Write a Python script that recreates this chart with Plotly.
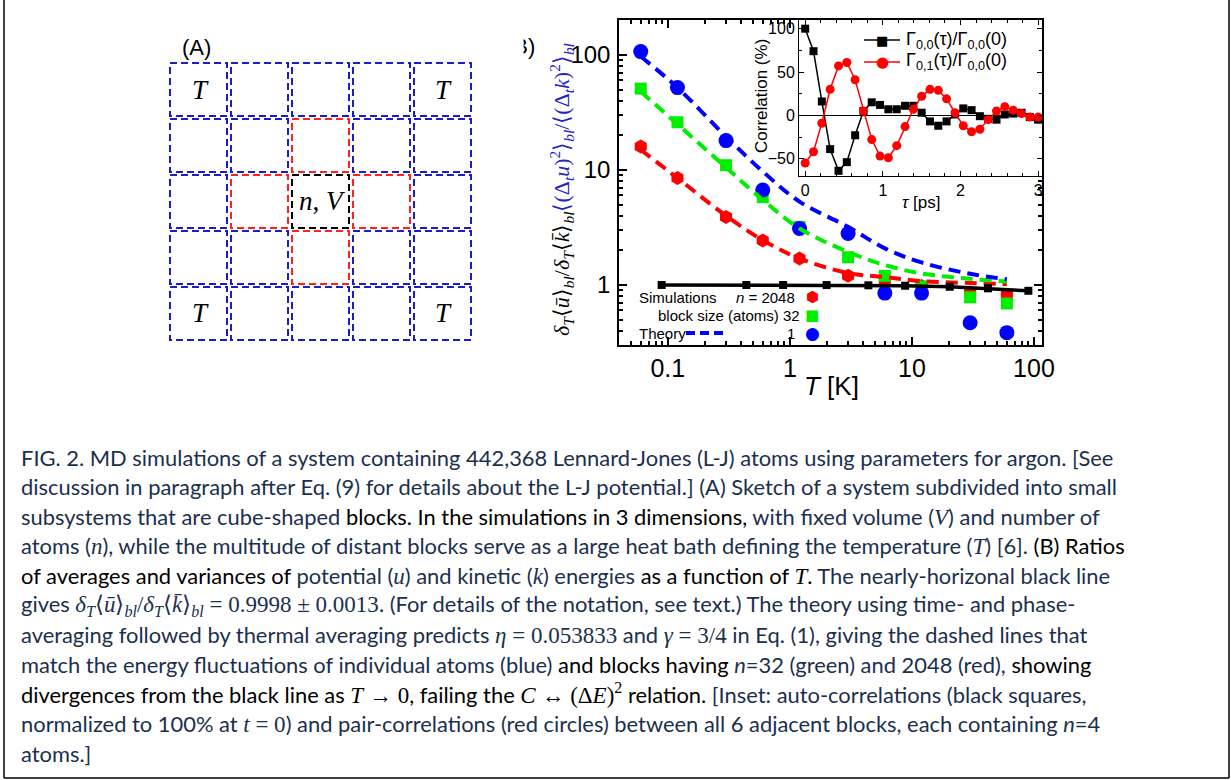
import plotly.graph_objects as go

W, H = 1231, 780

# ---------------- data ----------------
T_sim = [0.06, 0.12, 0.3, 0.6, 1.2, 3, 6, 12, 30, 60]
ratio_n2048 = [16, 8.5, 3.9, 2.43, 1.7, 1.2, 1.1, 0.98, 0.86, 0.82]
ratio_n32 = [51, 26, 11, 5.8, 3.2, 1.74, 1.2, 0.97, 0.78, 0.69]
ratio_n1 = [107, 52, 18, 6.7, 3.1, 2.8, 0.85, 0.85, 0.47, 0.385]

T_theory = [0.06, 0.12, 0.3, 0.6, 1.2, 3, 6, 12, 30, 60]
theory_n2048 = [15, 8.5, 4.0, 2.45, 1.7, 1.27, 1.17, 1.08, 1.04, 1.02]
theory_n32 = [48, 25, 10.5, 5.5, 3.1, 1.94, 1.49, 1.26, 1.13, 1.07]
theory_n1 = [97, 52, 19.5, 9.7, 5.3, 3.2, 2.08, 1.57, 1.25, 1.12]

T_black = [0.089, 0.44, 0.88, 2.0, 4.4, 8.8, 20.4, 42, 90]
ratio_black = [1.0, 1.0, 1.0, 0.998, 0.993, 0.985, 0.965, 0.935, 0.89]

tau_ps = [0.0, 0.107, 0.214, 0.321, 0.429, 0.536, 0.643, 0.75, 0.857, 0.964,
          1.071, 1.179, 1.286, 1.393, 1.5, 1.607, 1.714, 1.821, 1.929, 2.036,
          2.143, 2.25, 2.357, 2.464, 2.571, 2.679, 2.786, 2.893, 3.0]
gamma00 = [100, 74, 16, -39, -64, -54, -23, 5, 15, 12,
           7, 7, 11, 11, 3, -7, -12, -7, 1, 8,
           6, -1, -4, -5, 1, 2, 3, -2, -5]
gamma01 = [-55, -42, -9, 30, 57, 61, 41, 5, -28, -47,
           -49, -35, -13, 7, 22, 30, 29, 19, 3, -12,
           -19, -16, -5, 5, 10, 6, 2, -2, -2]

x_ticks_main = [0.1, 1, 10, 100]
y_ticks_main = [1, 10, 100]

inset_names = ["Γ<sub>0,0</sub>(τ)/Γ<sub>0,0</sub>(0)", "Γ<sub>0,1</sub>(τ)/Γ<sub>0,0</sub>(0)"]

grid_colors = [
    ["B", "B", "B", "B", "B"],
    ["B", "B", "R", "B", "B"],
    ["B", "R", "K", "R", "B"],
    ["B", "B", "R", "B", "B"],
    ["B", "B", "B", "B", "B"],
]

# ---------------- helpers ----------------
def px(x):
    return x / W

def py(y):
    return 1 - y / H

RED, GREEN, BLUE = "#ff0000", "#00ee00", "#0000ff"
NAVY = "#1b2f4e"
SANS = "Liberation Sans"
SERIF = "Liberation Serif"

fig = go.Figure()

# main plot markers
fig.add_trace(go.Scatter(x=T_sim, y=ratio_n2048, mode="markers",
                         marker=dict(symbol="hexagon", size=14, color=RED),
                         showlegend=False))
fig.add_trace(go.Scatter(x=T_sim, y=ratio_n32, mode="markers",
                         marker=dict(symbol="square", size=12, color=GREEN),
                         showlegend=False))
fig.add_trace(go.Scatter(x=T_sim, y=ratio_n1, mode="markers",
                         marker=dict(symbol="circle", size=15, color=BLUE),
                         showlegend=False))
# theory dashed
for yy, c in [(theory_n2048, RED), (theory_n32, GREEN), (theory_n1, BLUE)]:
    fig.add_trace(go.Scatter(x=T_theory, y=yy, mode="lines",
                             line=dict(color=c, width=4, dash="12px,7px", shape="spline"),
                             showlegend=False))
# black line
fig.add_trace(go.Scatter(x=T_black, y=ratio_black, mode="lines+markers",
                         line=dict(color="black", width=3.5),
                         marker=dict(symbol="square", size=8, color="black"),
                         showlegend=False))

# inset
fig.add_trace(go.Scatter(x=tau_ps, y=gamma00, mode="lines+markers", xaxis="x2", yaxis="y2",
                         line=dict(color="black", width=1.5),
                         marker=dict(symbol="square", size=8, color="black"),
                         name=inset_names[0], showlegend=False))
fig.add_trace(go.Scatter(x=tau_ps, y=gamma01, mode="lines+markers", xaxis="x2", yaxis="y2",
                         line=dict(color=RED, width=1.5),
                         marker=dict(symbol="circle", size=9, color=RED),
                         name=inset_names[1], showlegend=False))

axis_common = dict(showline=True, linecolor="black", mirror="allticks", ticks="inside",
                   showgrid=False, tickcolor="black", automargin=False)

fig.update_layout(
    width=W, height=H, margin=dict(l=0, r=0, t=0, b=0, pad=0, autoexpand=False), autosize=False,
    paper_bgcolor="white", plot_bgcolor="white", showlegend=False,
    xaxis=dict(**axis_common, type="log", range=[-1.40, 2.066], zeroline=False,
               domain=[px(619), px(1042)], linewidth=1.5, ticklen=8, tickwidth=1.5,
               tickvals=x_ticks_main, ticktext=[str(v) for v in x_ticks_main],
               tickfont=dict(family=SANS, size=25, color="black"),
               minor=dict(ticks="inside", ticklen=4, tickcolor="black", dtick="D1", showgrid=False),
               anchor="y"),
    yaxis=dict(**axis_common, type="log", range=[-0.522, 2.304], zeroline=False,
               domain=[py(345), py(20)], linewidth=1.5, ticklen=8, tickwidth=1.5,
               tickvals=y_ticks_main, ticktext=[str(v) for v in y_ticks_main],
               tickfont=dict(family=SANS, size=24, color="black"), ticklabelstandoff=2,
               minor=dict(ticks="inside", ticklen=4, tickcolor="black", dtick="D1", showgrid=False),
               anchor="x"),
    xaxis2=dict(**axis_common, range=[-0.08, 3.05], domain=[px(799), px(1042)], zeroline=False,
                linewidth=1, ticklen=5, dtick=1, anchor="y2",
                tickfont=dict(family=SANS, size=16, color="black"),
                minor=dict(ticks="inside", ticklen=3, dtick=0.2, tickcolor="black")),
    yaxis2=dict(**axis_common, range=[-70, 110], domain=[py(176), py(20)],
                zeroline=True, zerolinecolor="black", zerolinewidth=1,
                linewidth=1, ticklen=5, dtick=50, anchor="x2",
                tickfont=dict(family=SANS, size=16, color="black"),
                minor=dict(ticks="inside", ticklen=3, dtick=25, tickcolor="black")),
)

shapes = []
annotations = []

# inset axis titles and legend
annotations.append(dict(x=px(921), y=py(203), text="<i>τ</i> [ps]",
                        font=dict(family=SANS, size=17, color="black")))
annotations.append(dict(x=px(761), y=py(96), text="Correlation (%)", textangle=-90,
                        font=dict(family=SANS, size=17, color="black")))
for j, (name, col, sym, ly) in enumerate([(inset_names[0], "black", "■", 40),
                                          (inset_names[1], RED, "●", 62)]):
    shapes.append(dict(type="line", xref="paper", yref="paper", x0=px(864), x1=px(900),
                       y0=py(ly), y1=py(ly), line=dict(color=col, width=1.5)))
    annotations.append(dict(x=px(882), y=py(ly), text=sym,
                            font=dict(family="DejaVu Sans", size=13 if sym == "■" else 15, color=col)))
    annotations.append(dict(x=px(904), y=py(ly), text=name, xanchor="left",
                            font=dict(family=SANS, size=18, color="black")))

# main legend (custom)
leg_font = dict(family=SANS, size=15, color="black")
annotations += [
    dict(x=px(637), y=py(297), text="Simulations", xanchor="left", font=leg_font),
    dict(x=px(797), y=py(297), text="<i>n</i> = 2048", xanchor="right", font=leg_font),
    dict(x=px(656), y=py(315), text="block size (atoms) 32", xanchor="left", font=leg_font),
    dict(x=px(637), y=py(333), text="Theory", xanchor="left", font=leg_font),
    dict(x=px(797), y=py(333), text="1", xanchor="right", font=leg_font),
    dict(x=px(812), y=py(297), text="⬢", font=dict(family="DejaVu Sans", size=15, color=RED)),
    dict(x=px(812), y=py(315), text="■", font=dict(family="DejaVu Sans", size=15, color=GREEN)),
    dict(x=px(812), y=py(333), text="●", font=dict(family="DejaVu Sans", size=17, color=BLUE)),
]
shapes.append(dict(type="line", xref="paper", yref="paper", x0=px(686), x1=px(724),
                   y0=py(333), y1=py(333), line=dict(color=BLUE, width=4, dash="9px,5px")))

# main axis titles
annotations.append(dict(x=px(831), y=py(386), text="<i>T</i> [K]",
                        font=dict(family=SANS, size=26, color="black")))
ytitle = ('<span style="color:black"><i>δ<sub>T</sub></i>⟨<i>ū</i>⟩<sub><i>bl</i></sub>/'
          '<i>δ<sub>T</sub></i>⟨<i>k̄</i>⟩<sub><i>bl</i></sub></span>'
          '<span style="color:#2222cc">⟨(Δ<sub><i>t</i></sub><i>u</i>)<sup>2</sup>⟩<sub><i>bl</i></sub>/'
          '⟨(Δ<sub><i>t</i></sub><i>k</i>)<sup>2</sup>⟩<sub><i>bl</i></sub></span>')
annotations.append(dict(x=px(561), y=py(190), text=ytitle, textangle=-90,
                        font=dict(family=SERIF, size=22, color="black")))

# panel labels
annotations.append(dict(x=px(537), y=py(46), text="(B)", xanchor="right",
                        font=dict(family=SANS, size=22, color="black")))
annotations.append(dict(x=px(506), y=py(46), text=" ", width=32, height=32,
                        bgcolor="white"))
annotations.append(dict(x=px(180), y=py(47), text="(A)", xanchor="left",
                        font=dict(family=SANS, size=22, color="black")))

# panel A grid
cmap = {"B": "#1c1cc8", "R": "#ff2020", "K": "black"}
for layer_key in ["B", "R", "K"]:
    for r, row in enumerate(grid_colors):
        for c, key in enumerate(row):
            if key != layer_key:
                continue
            x0 = 170 + 61 * c
            y0 = 63 + 56 * r
            shapes.append(dict(type="rect", xref="paper", yref="paper",
                               x0=px(x0), x1=px(x0 + 57), y0=py(y0), y1=py(y0 + 53),
                               line=dict(color=cmap[key], width=2, dash="7px,4px")))
tfont = dict(family=SERIF, size=27, color="black")
for (cx, cy) in [(200, 90), (443, 90), (200, 313), (443, 313)]:
    annotations.append(dict(x=px(cx), y=py(cy), text="<i>T</i>", font=tfont))
annotations.append(dict(x=px(322), y=py(201), text="<i>n</i>, <i>V</i>", font=tfont))

# outer frame (no top)
for (x0, y0, x1, y1) in [(4, 0, 4, 778), (1229, 0, 1229, 778), (4, 778, 1229, 778)]:
    shapes.append(dict(type="line", xref="paper", yref="paper", x0=px(x0), x1=px(x1),
                       y0=py(y0), y1=py(y1), line=dict(color="black", width=1.5)))

# caption
def m(s):
    return '<span style="font-family:Liberation Serif;font-size:23px">' + s + '</span>'

def k(s):
    return '<span style="color:black">' + s + '</span>'

caption_lines = [
    "FIG. 2. MD simulations of a system containing 442,368 Lennard-Jones (L-J) atoms using parameters for argon. [See",
    "discussion in paragraph after Eq. (9) for details about the L-J potential.] (A) Sketch of a system subdivided into small",
    "subsystems that are cube-shaped " + k("blocks. In the simulations in 3 dimensions,") + " with fixed volume ("
    + m("<i>V</i>") + ") and number of",
    "atoms (" + m("<i>n</i>") + "), while the multitude of distant blocks serve as a large heat bath defining the temperature ("
    + m("<i>T</i>") + ") [6]. " + k("(B) Ratios"),
    k("of averages and variances of ") + "potential (" + m("<i>u</i>") + ") and kinetic (" + m("<i>k</i>")
    + ") energies " + k("as a function of " + m("<i>T</i>") + ".") + " The nearly-horizonal black line",
    "gives " + m("<i>δ<sub>T</sub></i>⟨<i>ū</i>⟩<sub><i>bl</i></sub>/<i>δ<sub>T</sub></i>⟨<i>k̄</i>⟩<sub><i>bl</i></sub> = 0.9998 ± 0.0013")
    + ". (For details of the notation, see text.) The theory using time- and phase-",
    "averaging followed by thermal averaging predicts " + m("<i>η</i> = 0.053833") + " and "
    + m("<i>γ</i> = 3/4") + " in Eq. (1), giving the dashed lines that",
    "match the energy fluctuations of individual atoms (blue) " + k("and blocks having ")
    + "<i>n</i>=32 (green) and 2048 (red), " + k("showing"),
    k("divergences from the black line as " + m("<i>T</i> → 0") + ", failing the "
      + m("<i>C</i> ↔ (Δ<i>E</i>)<sup>2</sup>") + " relation.") + " [Inset: auto-correlations (black squares,",
    "normalized to 100% at " + m("<i>t</i> = 0") + ") and pair-correlations (red circles) between all 6 adjacent blocks, each containing <i>n</i>=4",
    "atoms.]",
]
for i, line in enumerate(caption_lines):
    annotations.append(dict(x=px(19), y=py(457 + 29.6 * i), text=line, xanchor="left",
                            yanchor="middle", font=dict(family="Lato", size=21.9, color=NAVY)))

for a in annotations:
    a.setdefault("xref", "paper")
    a.setdefault("yref", "paper")
    a.setdefault("showarrow", False)
    a.setdefault("xanchor", "center")
    a.setdefault("yanchor", "middle")

fig.update_layout(shapes=shapes, annotations=annotations)
fig.write_html(
    "out.html",
    config={"displayModeBar": False, "responsive": False},
    post_script=("document.documentElement.style.margin='0';document.documentElement.style.overflow='hidden';"
                 "document.body.style.margin='0';document.body.style.padding='0';"
                 "document.body.style.overflow='hidden';"),
)
